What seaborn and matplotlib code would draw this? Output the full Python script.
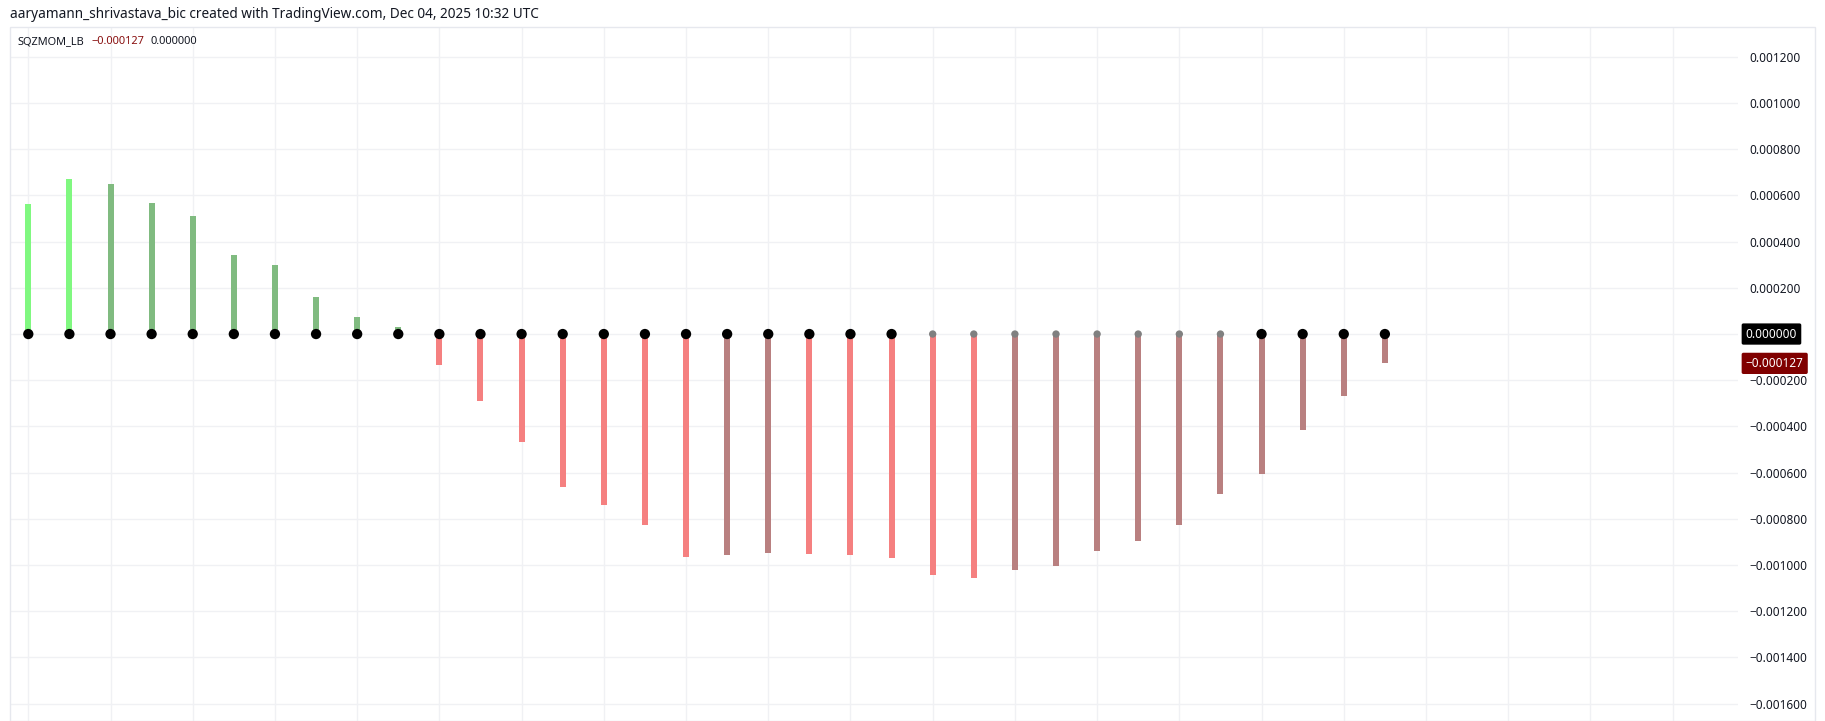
"""Squeeze momentum histogram (SQZMOM_LB) redrawn from a TradingView screenshot."""

import numpy as np
import pandas as pd
import matplotlib
matplotlib.use('Agg')
import matplotlib.pyplot as plt
from matplotlib.patches import Rectangle
from matplotlib.ticker import FixedLocator, FuncFormatter
import seaborn as sns

# Histogram values, one per bar
momentum = [0.000563, 0.000671, 0.000649, 0.000567, 0.000511, 0.000342, 0.000299,
            0.000162, 0.000075, 0.000030, -0.000133, -0.000291, -0.000469, -0.000661,
            -0.000742, -0.000826, -0.000967, -0.000955, -0.000948, -0.000951, -0.000955,
            -0.000971, -0.001042, -0.001054, -0.001023, -0.001006, -0.000937, -0.000898,
            -0.000826, -0.000694, -0.000605, -0.000417, -0.000267, -0.000127]
bar_state = (['lime'] * 2 + ['green'] * 8 + ['red'] * 7 + ['maroon'] * 2
             + ['red'] * 5 + ['maroon'] * 10)
squeeze_state = ['on'] * 22 + ['off'] * 8 + ['on'] * 4

y_ticks = [0.0012, 0.0010, 0.0008, 0.0006, 0.0004, 0.0002, 0.0,
           -0.0002, -0.0004, -0.0006, -0.0008, -0.0010, -0.0012, -0.0014, -0.0016]
last_value = -0.000127
header = "aaryamann_shrivastava_bic created with TradingView.com, Dec 04, 2025 10:32 UTC"

bar_palette = {'lime': '#80f880', 'green': '#80bb80', 'red': '#f58080', 'maroon': '#b98080'}


def fmt(v):
    return f"{v:.6f}".replace('-', '\u2212')


sns.set_theme(style='white')
plt.rcParams['font.family'] = ['Noto Sans', 'DejaVu Sans']

W, H = 1825, 721
fig = plt.figure(figsize=(W / 100, H / 100), dpi=100)
fig.patch.set_facecolor('white')

# panel frame (pixels)
px_left, px_right, px_top = 10, 1738, 27
ax = fig.add_axes([px_left / W, 0, (px_right - px_left) / W, 1 - px_top / H])
fig.patches.append(Rectangle((px_left / W, 0), (1815 - px_left) / W, 1 - px_top / H,
                             transform=fig.transFigure, fill=False,
                             edgecolor='#e6e8ee', linewidth=1.0))

df = pd.DataFrame({'bar': np.arange(len(momentum)), 'value': momentum,
                   'state': bar_state, 'squeeze': squeeze_state})

sns.barplot(data=df, x='bar', y='value', hue='state', palette=bar_palette,
            native_scale=True, dodge=False, width=0.146, legend=False,
            saturation=1, linewidth=0, ax=ax, zorder=2)

on = df[df['squeeze'] == 'on'].assign(zero=0.0)
off = df[df['squeeze'] == 'off'].assign(zero=0.0)
sns.scatterplot(data=on, x='bar', y='zero', color='black', s=55,
                edgecolor='none', ax=ax, zorder=4)
sns.scatterplot(data=off, x='bar', y='zero', color='#808080', s=28,
                edgecolor='none', ax=ax, zorder=4)

ax.set_xlim(-0.445, 41.59)
ax.set_ylim(-0.001675, 0.001329)
ax.set_xlabel('')
ax.set_ylabel('')

ax.xaxis.set_major_locator(FixedLocator(np.arange(0, 41, 2)))
ax.set_xticklabels([])
ax.yaxis.set_major_locator(FixedLocator(y_ticks))
# the zero level is shown by the black price tag instead
ax.yaxis.set_major_formatter(FuncFormatter(lambda v, p: '' if abs(v) < 1e-12 else fmt(v)))
ax.yaxis.tick_right()
ax.tick_params(axis='both', length=0)
ax.tick_params(axis='y', pad=8.5, labelsize=8.5, labelcolor='#131722')
ax.grid(True, color='#f0f1f4', linewidth=1.0, zorder=0)
ax.set_axisbelow(True)
for s in ax.spines.values():
    s.set_visible(False)

# price tags on the scale
tag_x = ('axes fraction', 'data')
tag_box = dict(boxstyle='round,pad=0.35,rounding_size=0.15', ec='none')
ax.annotate(fmt(0.0), xy=(1.0045, 0.0), xycoords=tag_x, ha='left', va='center',
            fontsize=8.5, color='white', fontweight='bold', zorder=6, annotation_clip=False,
            bbox=dict(tag_box, fc='black'))
ax.annotate(fmt(last_value), xy=(1.0045, last_value), xycoords=tag_x, ha='left',
            va='center', fontsize=8.5, color='white', fontweight='bold', zorder=6,
            annotation_clip=False, bbox=dict(tag_box, fc='#800000'))

# header and legend line
fig.text(10 / W, 1 - 15 / H, header, ha='left', va='center', fontsize=9.8, color='#131722')
leg_y = 1 - 42 / H
t1 = fig.text(18 / W, leg_y, 'SQZMOM_LB', ha='left', va='center', fontsize=7.9, color='#131722')
fig.canvas.draw()
r = fig.canvas.get_renderer()
x1 = t1.get_window_extent(r).x1 + 7
t2 = fig.text(x1 / W, leg_y, fmt(last_value), ha='left', va='center',
              fontsize=7.9, color='#880e0e')
x2 = t2.get_window_extent(r).x1 + 6
fig.text(x2 / W, leg_y, fmt(0.0), ha='left', va='center', fontsize=7.9, color='#131722')

plt.savefig('out.png', dpi=100)
plt.close()
